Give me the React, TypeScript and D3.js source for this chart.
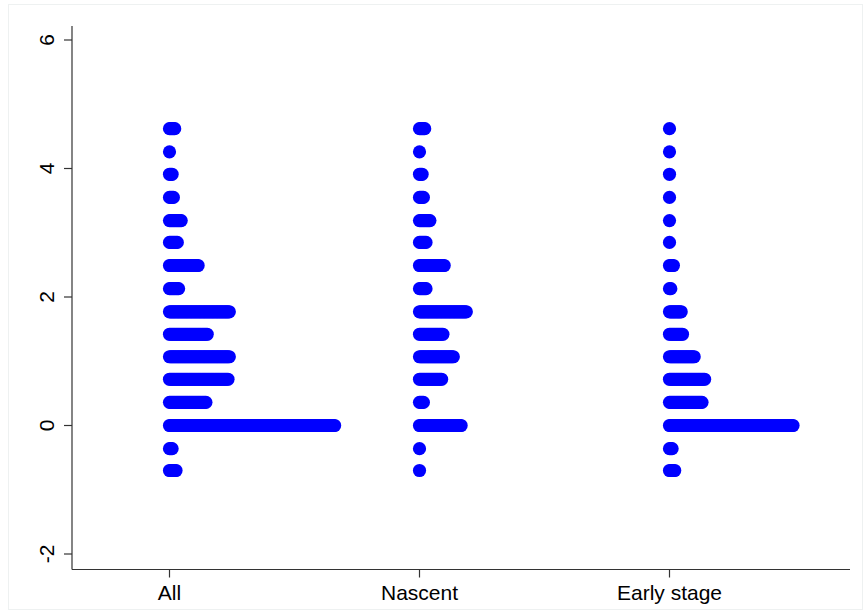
import React from "react";
import * as d3 from "d3";

const groups = ["All", "Nascent", "Early stage"];
const rowValues = [4.62, 4.26, 3.91, 3.55, 3.19, 2.85, 2.49, 2.13, 1.77, 1.42, 1.07, 0.72, 0.36, 0, -0.36, -0.7];
const countsAll = [5, 1, 3, 4, 10, 7, 23, 8, 47, 30, 47, 46, 29, 128, 3, 6];
const countsNascent = [5, 1, 3, 4, 9, 6, 20, 6, 37, 19, 27, 18, 4, 33, 1, 1];
const countsEarly = [1, 1, 1, 1, 1, 1, 4, 2, 10, 11, 20, 28, 26, 96, 3, 5];
const yTicks = [-2, 0, 2, 4, 6];

const W = 863;
const H = 610;

export default function App() {
  const y = d3.scaleLinear().domain([-2, 6]).range([554, 40]);
  const x = d3.scalePoint<string>().domain(groups).range([169.5, 669.5]);
  const stack = d3.scaleLinear().domain([0, 1]).range([0, 1.3]);
  const series = [countsAll, countsNascent, countsEarly];
  const axisX = 72;
  const axisY = 569.5;
  const font = "'Liberation Sans', Arial, Helvetica, sans-serif";

  return (
    <svg width={W} height={H} style={{ position: "fixed", left: 0, top: 0, background: "#fff" }}>
      <rect x={8.5} y={4.5} width={W - 9} height={H - 5} fill="#fff" stroke="#eef1f1" strokeWidth={1} />
      {series.map((counts, gi) =>
        counts.map((n, ri) =>
          d3.range(n).map((k) => (
            <circle
              key={`${gi}-${ri}-${k}`}
              cx={(x(groups[gi]) as number) + stack(k)}
              cy={y(rowValues[ri])}
              r={6.6}
              fill="#0000ff"
            />
          ))
        )
      )}
      <line x1={axisX} x2={axisX} y1={26} y2={axisY} stroke="#333" strokeWidth={1.2} />
      <line x1={axisX} x2={850} y1={axisY} y2={axisY} stroke="#333" strokeWidth={1.2} />
      {yTicks.map((t) => (
        <g key={t}>
          <line x1={axisX - 8} x2={axisX} y1={y(t)} y2={y(t)} stroke="#333" strokeWidth={1.2} />
          <text
            transform={`translate(53.5,${y(t)}) rotate(-90)`}
            textAnchor="middle"
            fontFamily={font}
            fontSize={21}
            fill="#000"
          >
            {t}
          </text>
        </g>
      ))}
      {groups.map((g) => (
        <g key={g}>
          <line x1={x(g)} x2={x(g)} y1={axisY} y2={axisY + 8} stroke="#333" strokeWidth={1.2} />
          <text x={x(g)} y={600} textAnchor="middle" fontFamily={font} fontSize={21} fill="#000">
            {g}
          </text>
        </g>
      ))}
    </svg>
  );
}
